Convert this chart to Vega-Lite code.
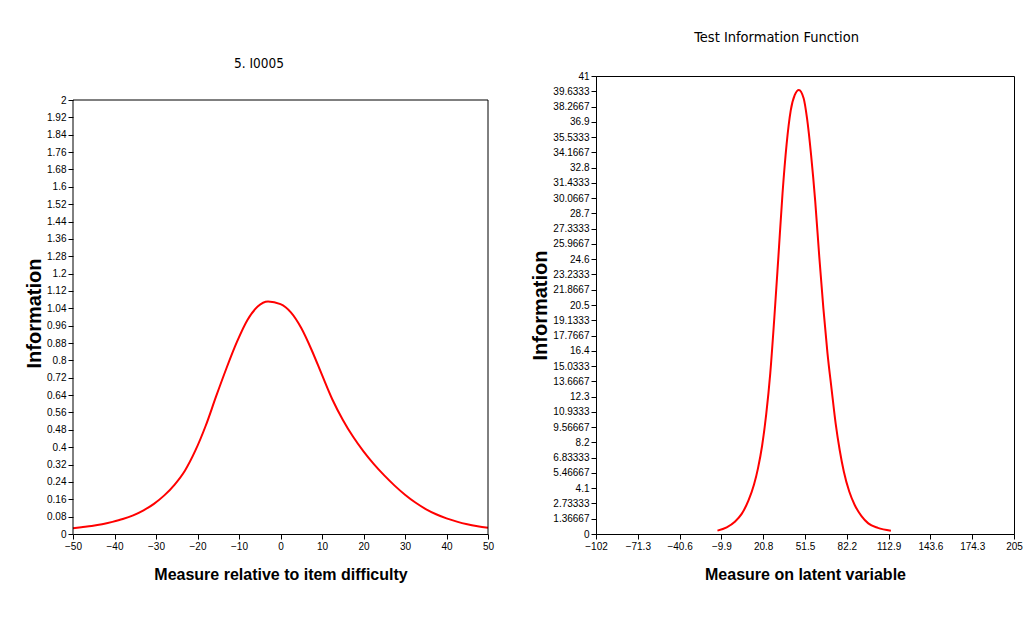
{
  "$schema": "https://vega.github.io/schema/vega-lite/v6.json",
  "background": "white",
  "padding": {"left": 24, "top": 29, "right": 0, "bottom": 0},
  "spacing": 36,
  "datasets": {
    "item": [
      {"x": -50, "v": 0.026}, {"x": -48, "v": 0.031}, {"x": -45.5, "v": 0.037}, {"x": -43, "v": 0.045},
      {"x": -40.5, "v": 0.056}, {"x": -38, "v": 0.069}, {"x": -35.5, "v": 0.086}, {"x": -33, "v": 0.109},
      {"x": -30.5, "v": 0.139}, {"x": -28, "v": 0.178}, {"x": -25.5, "v": 0.228}, {"x": -23, "v": 0.293},
      {"x": -20.5, "v": 0.385}, {"x": -18, "v": 0.5}, {"x": -15.5, "v": 0.635}, {"x": -13, "v": 0.765},
      {"x": -10.5, "v": 0.885}, {"x": -8, "v": 0.985}, {"x": -5.5, "v": 1.048}, {"x": -3, "v": 1.071},
      {"x": 0, "v": 1.059}, {"x": 2.5, "v": 1.021}, {"x": 5, "v": 0.949}, {"x": 7.5, "v": 0.848},
      {"x": 10, "v": 0.733}, {"x": 12.5, "v": 0.62}, {"x": 15, "v": 0.527}, {"x": 17.5, "v": 0.448},
      {"x": 20, "v": 0.381}, {"x": 22.5, "v": 0.322}, {"x": 25, "v": 0.27}, {"x": 27.5, "v": 0.223},
      {"x": 30, "v": 0.181}, {"x": 32.5, "v": 0.145}, {"x": 35, "v": 0.115}, {"x": 37.5, "v": 0.091},
      {"x": 40, "v": 0.072}, {"x": 42.5, "v": 0.057}, {"x": 45, "v": 0.045}, {"x": 47.5, "v": 0.036},
      {"x": 50, "v": 0.029}
    ],
    "test": [
      {"x": -12.8, "v": 0.3}, {"x": -6, "v": 0.6}, {"x": 0, "v": 1.1}, {"x": 5, "v": 1.8},
      {"x": 10, "v": 3.0}, {"x": 14, "v": 4.4}, {"x": 17, "v": 5.9}, {"x": 20, "v": 7.9},
      {"x": 23, "v": 10.7}, {"x": 26, "v": 14.4}, {"x": 29, "v": 19.4}, {"x": 32, "v": 24.9},
      {"x": 35, "v": 30.5}, {"x": 38, "v": 34.9}, {"x": 41, "v": 37.9}, {"x": 44, "v": 39.3},
      {"x": 47, "v": 39.75}, {"x": 50.5, "v": 39.0}, {"x": 53, "v": 37.2}, {"x": 56, "v": 33.9},
      {"x": 59, "v": 29.8}, {"x": 62, "v": 24.8}, {"x": 65, "v": 20.2}, {"x": 68, "v": 16.2},
      {"x": 71, "v": 13.0}, {"x": 74, "v": 9.9}, {"x": 77, "v": 7.5}, {"x": 80, "v": 5.6},
      {"x": 84, "v": 3.8}, {"x": 88, "v": 2.6}, {"x": 93, "v": 1.6}, {"x": 98, "v": 0.95},
      {"x": 105, "v": 0.55}, {"x": 114.6, "v": 0.3}
    ]
  },
  "config": {
    "view": {"stroke": "black", "strokeWidth": 1},
    "axis": {
      "grid": false,
      "domainColor": "black",
      "tickColor": "black",
      "labelFont": "Liberation Sans",
      "labelFontSize": 10,
      "labelColor": "black",
      "labelOverlap": false,
      "titleFont": "Liberation Sans",
      "titleFontWeight": "bold",
      "titleColor": "black",
      "tickSize": 5,
      "labelPadding": 2
    },
    "axisX": {"titleFontSize": 16, "labelFlush": false, "titlePadding": 15, "format": ".6~g"},
    "axisY": {"titleFontSize": 20, "titlePadding": 2, "format": ".6~g"},
    "title": {
      "font": "DejaVu Sans Condensed",
      "fontWeight": "normal",
      "fontSize": 14,
      "color": "black",
      "baseline": "bottom",
      "offset": 26,
      "frame": "bounds"
    }
  },
  "hconcat": [
    {
      "title": {"text": "5. I0005", "fontSize": 13.5, "dy": 20},
      "width": 415,
      "height": 458,
      "view": {"stroke": null},
      "layer": [
        {
          "data": {"name": "item"},
          "mark": {"type": "line", "color": "#ff0000", "strokeWidth": 2, "interpolate": "monotone"},
          "encoding": {
            "x": {
              "field": "x", "type": "quantitative",
              "scale": {"domain": [-50, 50], "nice": false, "zero": false},
              "axis": {"title": "Measure relative to item difficulty", "values": [-50, -40, -30, -20, -10, 0, 10, 20, 30, 40, 50]}
            },
            "y": {
              "field": "v", "type": "quantitative",
              "scale": {"domain": [0, 2.1106], "nice": false},
              "axis": {
                "title": "Information",
                "domain": false,
                "labelOverlap": false,
                "tickCount": 40,
                "titleY": 237,
                "values": [0, 0.08, 0.16, 0.24, 0.32, 0.4, 0.48, 0.56, 0.64, 0.72, 0.8, 0.88, 0.96, 1.04, 1.12, 1.2, 1.28, 1.36, 1.44, 1.52, 1.6, 1.68, 1.76, 1.84, 1.92, 2]
              }
            }
          }
        },
        {
          "data": {"values": [{}]},
          "mark": {"type": "rule", "color": "black", "strokeWidth": 1},
          "encoding": {"y": {"datum": 2, "type": "quantitative"}}
        },
        {
          "data": {"values": [{}]},
          "mark": {"type": "rule", "color": "black", "strokeWidth": 1},
          "encoding": {
            "x": {"datum": -50, "type": "quantitative"},
            "y": {"datum": 0, "type": "quantitative"},
            "y2": {"datum": 2}
          }
        },
        {
          "data": {"values": [{}]},
          "mark": {"type": "rule", "color": "black", "strokeWidth": 1},
          "encoding": {
            "x": {"datum": 50, "type": "quantitative"},
            "y": {"datum": 0, "type": "quantitative"},
            "y2": {"datum": 2}
          }
        }
      ]
    },
    {
      "title": {"text": "Test Information Function", "fontSize": 14.5},
      "width": 418,
      "height": 458,
      "data": {"name": "test"},
      "mark": {"type": "line", "color": "#ff0000", "strokeWidth": 2, "interpolate": "monotone"},
      "encoding": {
        "x": {
          "field": "x", "type": "quantitative",
          "scale": {"domain": [-102, 205], "nice": false, "zero": false},
          "axis": {"title": "Measure on latent variable", "values": [-102, -71.3, -40.6, -9.9, 20.8, 51.5, 82.2, 112.9, 143.6, 174.3, 205]}
        },
        "y": {
          "field": "v", "type": "quantitative",
          "scale": {"domain": [0, 41], "nice": false},
          "axis": {
            "title": "Information",
            "values": [0, 1.36667, 2.73333, 4.1, 5.46667, 6.83333, 8.2, 9.56667, 10.9333, 12.3, 13.6667, 15.0333, 16.4, 17.7667, 19.1333, 20.5, 21.8667, 23.2333, 24.6, 25.9667, 27.3333, 28.7, 30.0667, 31.4333, 32.8, 34.1667, 35.5333, 36.9, 38.2667, 39.6333, 41]
          }
        }
      }
    }
  ]
}
